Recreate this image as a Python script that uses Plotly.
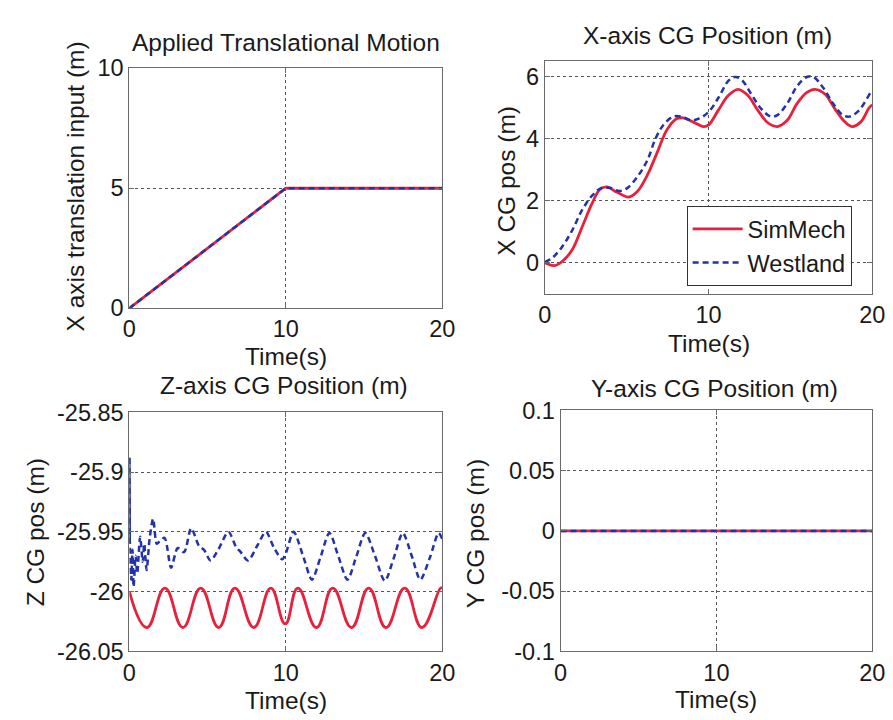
import plotly.graph_objects as go

# ---------------- data ----------------
# Applied translational motion (input)
t_input = [0, 10, 20]
x_input_sim = [0, 5, 5]
x_input_west = [0, 5, 5]

# X-axis CG position
t_x_sim = [0, 0.58, 1.07, 1.67, 2.27, 2.87, 3.36, 3.8, 4.26, 4.7, 5.1, 5.65, 6.25, 6.85,
           7.44, 8.04, 8.44, 9.04, 9.7, 10.0, 10.6, 11.2, 11.8, 12.4, 13.0, 13.6, 14.2,
           14.8, 15.4, 16.0, 16.5, 17.1, 17.7, 18.3, 18.75, 19.3, 19.8, 20.0]
x_sim = [0, -0.09, 0.05, 0.42, 1.15, 1.9, 2.37, 2.45, 2.32, 2.2, 2.12, 2.3, 2.82, 3.55,
         4.28, 4.65, 4.68, 4.55, 4.4, 4.45, 4.93, 5.4, 5.6, 5.4, 4.93, 4.53, 4.4,
         4.6, 5.14, 5.5, 5.6, 5.45, 4.98, 4.56, 4.4, 4.55, 5.0, 5.1]
t_x_west = [0, 0.48, 1.07, 1.67, 2.27, 2.87, 3.46, 3.96, 4.56, 5.05, 5.65, 6.25, 6.75,
            7.24, 7.84, 8.34, 8.94, 9.43, 10.0, 10.6, 11.2, 11.6, 12.0, 12.6, 13.2, 13.8,
            14.2, 14.8, 15.4, 16.0, 16.4, 17.0, 17.6, 18.2, 18.6, 19.2, 19.9, 20.0]
x_west = [0.02, 0.17, 0.53, 1.05, 1.7, 2.16, 2.42, 2.42, 2.32, 2.42, 2.78, 3.3, 4.0,
          4.45, 4.72, 4.72, 4.6, 4.66, 4.87, 5.33, 5.87, 6.0, 5.92, 5.45, 4.98, 4.72,
          4.77, 5.14, 5.7, 6.0, 6.0, 5.65, 5.14, 4.77, 4.72, 4.93, 5.5, 5.55]

# Z-axis CG position
t_z_sim = [0, 1.12, 2.27, 3.42, 4.56, 5.71, 6.75, 7.95, 9.04, 9.96, 10.77, 11.96, 13.0,
           14.2, 15.3, 16.4, 17.6, 18.7, 19.9, 20.0]
z_sim = [-26.0, -26.030, -25.997, -26.030, -25.997, -26.030, -25.997, -26.030, -25.997,
         -26.027, -25.997, -26.030, -25.997, -26.030, -25.997, -26.030, -25.997, -26.030,
         -25.997, -25.9975]
t_z_west = [0, 0.03, 0.12, 0.2, 0.27, 0.4, 0.5, 0.69, 0.85, 0.95, 1.1, 1.3, 1.52, 1.75,
            1.94, 2.25, 2.67, 3.09, 3.5, 3.95, 4.46, 4.77, 5.19, 5.7, 6.33, 6.85, 7.06,
            7.58, 8.2, 8.73, 9.25, 9.77, 10.0, 10.5, 11.1, 11.67, 12.2, 12.79, 13.35,
            13.94, 14.5, 15.08, 15.7, 16.33, 16.9, 17.48, 18.05, 18.6, 19.2, 19.77, 20.0]
z_west = [-25.888, -25.96, -25.99, -25.965, -25.996, -25.97, -25.985, -25.954, -25.975,
          -25.96, -25.982, -25.955, -25.939, -25.96, -25.958, -25.955, -25.980, -25.9635,
          -25.967, -25.947, -25.962, -25.965, -25.974, -25.9645, -25.950, -25.9635,
          -25.966, -25.974, -25.961, -25.950, -25.9635, -25.973, -25.968, -25.950,
          -25.970, -25.990, -25.972, -25.951, -25.970, -25.990, -25.971, -25.951,
          -25.970, -25.991, -25.972, -25.951, -25.970, -25.990, -25.972, -25.951, -25.956]

# Y-axis CG position
t_y = [0, 20]
y_sim = [0, 0]
y_west = [0, 0]

# tick labels
z_tickvals = [-26.05, -26.0, -25.95, -25.9, -25.85]
z_ticktext = ["-26.05", "-26", "-25.95", "-25.9", "-25.85"]
yy_tickvals = [-0.1, -0.05, 0, 0.05, 0.1]
yy_ticktext = ["-0.1", "-0.05", "0", "0.05", "0.1"]

# ---------------- styling ----------------
W, H = 893, 720
RED = "#e8203c"
BLUE = "#2233a8"
FONT = "Liberation Sans, Arial, Helvetica, sans-serif"
TXT = "#1a1a1a"
FS = 23.5
FT = 24.5


def px2x(px):
    return px / W


def px2y(py):
    return 1 - py / H


fig = go.Figure()


def add_pair(ts, vs, tw, vw, xa, ya, legend=False, spline=True, sm_s=1.0, sm_w=1.0):
    shape = "spline" if spline else "linear"
    fig.add_trace(go.Scatter(x=ts, y=vs, mode="lines", name="SimMech",
                             line=dict(color=RED, width=2.8, shape=shape, smoothing=sm_s),
                             xaxis=xa, yaxis=ya, showlegend=legend))
    fig.add_trace(go.Scatter(x=tw, y=vw, mode="lines", name="Westland",
                             line=dict(color=BLUE, width=2.5, dash="6px,4px", shape=shape,
                                       smoothing=sm_w),
                             xaxis=xa, yaxis=ya, showlegend=legend))


add_pair(t_input, x_input_sim, t_input, x_input_west, "x", "y", spline=False)
add_pair(t_x_sim, x_sim, t_x_west, x_west, "x2", "y2", legend=True)
add_pair(t_z_sim, z_sim, t_z_west, z_west, "x3", "y3", sm_s=1.3, sm_w=0.8)
# solid initial transient of Westland Z response
fig.add_trace(go.Scatter(x=t_z_west[:2], y=z_west[:2], mode="lines",
                         line=dict(color=BLUE, width=2.4), xaxis="x3", yaxis="y3",
                         showlegend=False))
add_pair(t_y, y_sim, t_y, y_west, "x4", "y4", spline=False)

axis_common = dict(
    showline=True, linecolor="#6a6a6a", linewidth=1, mirror="ticks",
    ticks="inside", ticklen=5, tickcolor="#6a6a6a",
    showgrid=True, gridcolor="#555555", gridwidth=1, griddash="3px,3px",
    zeroline=False, tickfont=dict(family=FONT, size=FS, color=TXT),
    fixedrange=True,
)

xdom_l = [px2x(117), px2x(437)]
fig.update_layout(
    xaxis=dict(axis_common, domain=xdom_l, range=[0, 20], tickvals=[0, 10, 20], anchor="y"),
    yaxis=dict(axis_common, domain=[px2y(298), px2y(49)], range=[0, 10], tickvals=[0, 5, 10],
               anchor="x"),
    xaxis2=dict(axis_common, domain=[px2x(542), px2x(877)], range=[0, 20],
                tickvals=[0, 10, 20], anchor="y2"),
    yaxis2=dict(axis_common, domain=[px2y(283), px2y(42)], range=[-1, 6.5],
                tickvals=[0, 2, 4, 6], anchor="x2"),
    xaxis3=dict(axis_common, domain=xdom_l, range=[0, 20], tickvals=[0, 10, 20], anchor="y3"),
    yaxis3=dict(axis_common, domain=[px2y(654), px2y(406)], range=[-26.05, -25.85],
                tickvals=z_tickvals, ticktext=z_ticktext, anchor="x3"),
    xaxis4=dict(axis_common, domain=[px2x(558), px2x(877)], range=[0, 20],
                tickvals=[0, 10, 20], anchor="y4"),
    yaxis4=dict(axis_common, domain=[px2y(654), px2y(404)], range=[-0.1, 0.1],
                tickvals=yy_tickvals, ticktext=yy_ticktext, anchor="x4"),
    width=W, height=H,
    margin=dict(l=0, r=0, t=0, b=0),
    paper_bgcolor="white", plot_bgcolor="white",
    font=dict(family=FONT, size=FS, color=TXT),
    legend=dict(x=px2x(687), y=px2y(192), xanchor="left", yanchor="top",
                bgcolor="white", bordercolor="#333333", borderwidth=1,
                font=dict(family=FONT, size=FS, color=TXT), tracegroupgap=0,
                itemwidth=50),
)


def ann(text, xpx, ypx, angle=0, size=FT):
    fig.add_annotation(text=text, x=px2x(xpx), y=px2y(ypx), xref="paper", yref="paper",
                       showarrow=False, textangle=angle, xanchor="center", yanchor="middle",
                       font=dict(family=FONT, size=size, color=TXT))


# subplot titles
ann("Applied Translational Motion", 277, 22)
ann("X-axis CG Position (m)", 708, 15)
ann("Z-axis CG Position (m)", 275, 378)
ann("Y-axis CG Position (m)", 716, 381)
# x axis titles
ann("Time(s)", 277, 348)
ann("Time(s)", 710, 335)
ann("Time(s)", 277, 705)
ann("Time(s)", 717, 704)
# y axis titles
ann("X axis translation input (m)", 62, 172, -90)
ann("X CG pos (m)", 502, 166, -90)
ann("Z CG pos (m)", 21, 531, -90)
ann("Y CG pos (m)", 471, 532, -90)

fig.write_html("out.html")
